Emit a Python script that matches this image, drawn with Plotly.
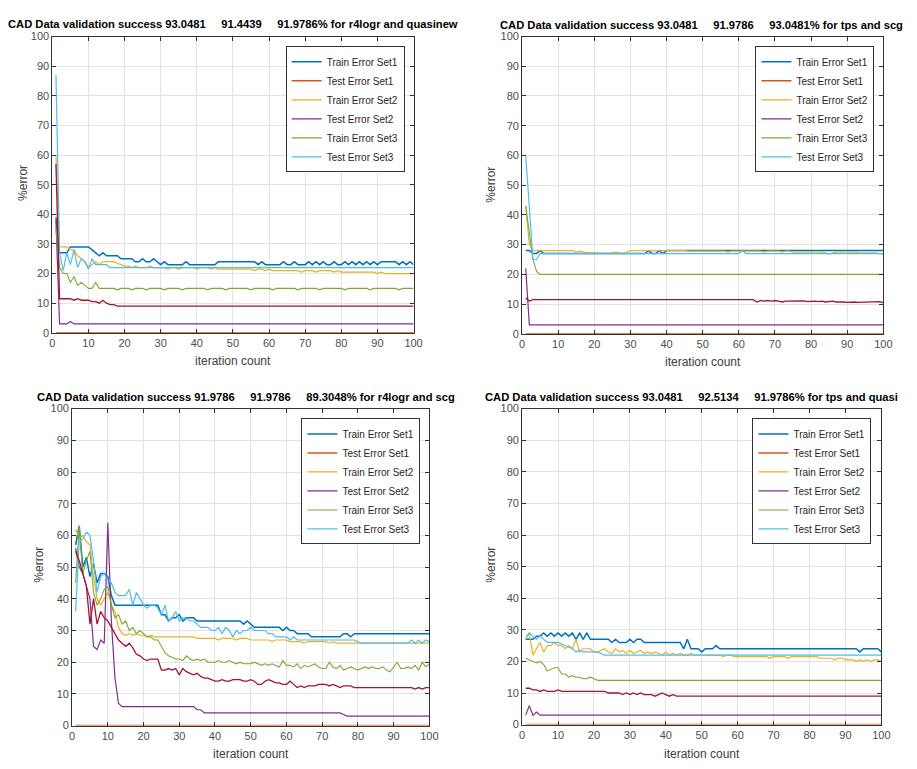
import plotly.graph_objects as go

# ---------------- data ----------------
iterations = list(range(1, 101))

series_names = ["Train Error Set1", "Test Error Set1", "Train Error Set2",
                "Test Error Set2", "Train Error Set3", "Test Error Set3"]

GAP = "\u00a0" * 5
titles = [
    "CAD Data validation success 93.0481" + GAP + "91.4439" + GAP + "91.9786% for r4logr and quasinew",
    "CAD Data validation success 93.0481" + GAP + "91.9786" + GAP + "93.0481% for tps and scg",
    "CAD Data validation success 91.9786" + GAP + "91.9786" + GAP + "89.3048% for r4logr and scg",
    "CAD Data validation success 93.0481" + GAP + "92.5134" + GAP + "91.9786% for tps and quasi",
]

x_ticks = [0, 10, 20, 30, 40, 50, 60, 70, 80, 90, 100]
y_ticks = [0, 10, 20, 30, 40, 50, 60, 70, 80, 90, 100]

# Panel 1: r4logr and quasinew
p1_train1 = [39, 27, 27, 27, 29, 29, 29, 29, 29, 29,
             28, 27, 26, 27, 26, 26, 26, 26, 25, 25,
             25, 25, 24, 24, 25, 24, 24, 25, 24, 23,
             24, 23, 23, 23, 23, 23, 24, 23, 23, 23,
             23, 23, 23, 23, 23, 24, 24, 24, 24, 24,
             24, 24, 24, 24, 24, 24, 23, 24, 23, 23,
             23, 23, 23, 24, 23, 23, 24, 23, 23, 23,
             24, 23, 24, 23, 24, 23, 23, 24, 23, 23,
             24, 23, 24, 23, 24, 23, 24, 23, 24, 23,
             24, 24, 24, 24, 24, 23, 24, 23, 24, 23]
p1_test1 = [0] * 100
p1_train2 = [60, 29, 29, 29, 28, 28, 26, 25, 24, 22,
             23, 24, 23, 24, 24, 24, 24, 23.5, 23, 22.5,
             22.5, 22, 22.5, 22, 22, 22, 22.5, 22, 22, 22,
             22, 21.5, 22, 22, 21.5, 22, 22, 22, 22, 21.5,
             22, 22, 22, 21.5, 22, 21.5, 21.5, 21.5, 21.5, 21.5,
             21.5, 21.5, 21.5, 21.5, 21.5, 21, 21.5, 21.5, 21, 21.5,
             21, 21, 21, 21, 21, 21, 21, 21, 20.5, 21,
             21, 21, 20.5, 21, 21, 21, 21, 20.5, 21, 20.5,
             20.5, 20.5, 20.5, 20.5, 20.5, 20.5, 20.5, 20.5, 20.5, 20,
             20.5, 20, 20, 20, 20, 20, 20, 20, 20, 20]
p1_test2 = [38, 3, 3, 3, 3.8] + [3] * 95
p1_train3 = [35, 22, 20, 20, 17, 19, 16, 17, 16, 15,
             15, 17, 15, 15, 15, 15, 15, 14.5, 15, 15,
             15, 14.5, 15, 15, 15, 14.5, 15, 15, 15, 15,
             14.5, 15, 15, 15, 15, 14.5, 15, 15, 15, 15,
             15, 15, 14.5, 15, 15, 15, 15, 14.5, 15, 15,
             15, 15, 15, 15, 14.5, 15, 15, 15, 15, 15,
             14.5, 15, 15, 15, 15, 15, 15, 14.5, 15, 15,
             15, 15, 15, 14.5, 15, 15, 15, 15, 15, 15,
             14.5, 15, 15, 15, 15, 15, 15, 14.5, 15, 15,
             15, 15, 15, 15, 15, 14.5, 15, 15, 15, 15]
p1_test3 = [87, 27, 21, 27, 23, 28, 22, 25, 24, 21.5,
            25, 23, 23, 23, 23, 22] + [22] * 84
p1_extra = [57, 11.5, 11.5, 11.5, 11.5, 11, 11.5, 11, 11, 11,
            10.5, 10.5, 10, 11, 10, 9.5, 9.5, 9, 9, 9] + [9] * 80

# Panel 2: tps and scg
p2_train1 = [28, 28, 27, 27, 28, 27, 27, 27, 27, 27,
             27, 27, 27, 27, 27, 27, 27, 27, 27, 27,
             27, 27, 27, 27, 27, 27, 27, 27, 27, 27,
             27, 27, 27, 27, 28, 27, 27, 28, 27, 28] + [28] * 60
p2_test1 = [0] * 100
p2_train2 = [43, 30, 28, 28, 28, 28, 28, 28, 28, 28,
             28, 28, 28, 28, 27.5, 27.8, 27.5, 27.3, 27.2, 27.3,
             27.2, 27, 27.2, 27, 27.3, 27.5, 27.2, 27, 27.5, 28,
             28, 28, 28, 28, 28.2, 28, 28, 28, 28, 28,
             28.2, 28.2, 28.2, 28.2, 28, 27.8, 27.8, 27.8, 27.8, 27.8,
             27.8, 27.8, 27.8, 27.8, 27.8, 27.8, 27.5, 27.8, 27.8, 27.8,
             27.8, 27.8, 27.8, 27.8, 27.8, 27.8, 27.5, 27.8, 27.8, 27.8,
             27.8, 27.5, 27.8, 27.8, 27.5, 27.5, 27.5, 27.5, 27.5, 27.5,
             27.5, 27.5, 27.5, 27.2, 26.8, 27.2, 27.5, 27.5, 27.5, 27.5,
             27.3, 27.5, 27.2, 27.2, 27.3, 27.3, 27.2, 27.2, 27, 26.8]
p2_test2 = [22] + [3] * 99
p2_train3 = [43, 33, 25, 21, 20] + [20] * 95
p2_test3 = [60, 42, 25, 25, 27] + [27] * 55 + [28] + [27] * 39
p2_extra = [12, 11, 11.5] + [11.5] * 61 + [
             10.7, 11.2, 11, 11.2, 11, 11.2, 11, 10.7, 11, 11,
             11.2, 11, 11, 11.1, 10.8, 11, 11, 10.8, 11, 10.7,
             10.8, 11, 10.7, 10.8, 10.7, 10.6, 10.7, 10.7, 10.6, 10.6,
             10.6, 10.7, 10.6, 10.6, 10.8, 10.5]

# Panel 3: r4logr and scg
p3_train1 = [57, 63, 50, 53, 47, 51, 45, 48, 48, 47,
             41, 38, 38, 38, 38, 38, 38, 38, 38, 38,
             38, 38, 38, 38, 35, 35, 33, 34, 34, 35,
             33, 34, 34, 34, 33, 33, 33, 33, 33, 33,
             33, 33, 33, 33, 33, 33, 33, 32, 33, 32,
             31, 31, 31, 31, 31, 31, 31, 31, 30, 31,
             30, 30, 29, 29, 29, 29, 28, 28, 28, 28,
             28, 28, 28, 28, 28, 29, 29, 28, 29, 29,
             29, 29, 29, 29, 29, 29, 29, 29, 29, 29,
             29, 29, 29, 29, 29, 29, 29, 29, 29, 29]
p3_test1 = [0] * 100
p3_train2 = [62, 59, 60, 58, 57, 47, 40, 38, 40, 42,
             38, 36, 31, 29, 28.5, 29, 28.5, 29, 28.5, 28.5,
             28, 28.5, 28, 28, 28, 28, 28, 28, 28, 28,
             28, 28, 28, 28, 27.5, 27.5, 27.5, 27.5, 27.5, 27.5,
             27, 27.5, 27.5, 27.5, 27.5, 27, 27.5, 27.5, 27.5, 27,
             27, 27, 27, 27, 27, 26.5, 27, 27, 27, 27,
             26.5, 26.5, 26.5, 26.5, 26, 26.5, 26.5, 26.5, 26.5, 26.5,
             26.5, 26, 26.5, 26, 26, 26, 26, 26, 26, 26] + [26] * 20
p3_test2 = [56, 50, 48, 44, 40, 25, 24, 27, 26, 64,
            33, 15, 7, 6, 6, 6, 6, 6, 6, 6] + [6] * 14 + [5, 5] + [4] * 39 + [3.5] + [3] * 24
p3_train3 = [45, 63, 48, 52, 55, 42, 38, 40, 43, 44,
             38, 34, 35, 32, 33, 30, 31, 29, 30, 29,
             28, 28, 27, 27, 25, 23, 22, 21.5, 21, 21,
             20.5, 22, 21, 20.5, 21, 20.5, 21, 20, 20, 20,
             20.5, 20, 20, 20.5, 20, 19.5, 20, 19.5, 19.5, 19.5,
             20, 19.5, 19, 19.5, 19, 19.5, 19, 18.5, 20.5, 19,
             19, 18.5, 19.5, 18, 19, 18.5, 19, 19.5, 18.5, 18,
             18, 20, 18.5, 18, 19, 17.5, 18, 18.5, 18, 17.5,
             18, 18.5, 18, 18.5, 18, 18, 18.5, 17.5, 17, 18.5,
             20, 18, 18, 18.5, 18, 19, 17.5, 20, 18.5, 19.5]
p3_test3 = [36, 58, 59, 61, 60, 52, 42, 47, 48, 46,
            45, 42, 41, 41, 41, 43, 38, 42, 40, 38,
            37, 38, 38, 37, 35, 38, 33, 34, 36, 33,
            34, 34, 33, 33, 32, 31, 31, 31, 30, 30,
            31, 29, 31, 30, 28, 30, 29, 30, 30, 31,
            30, 30, 30, 30, 29, 29, 28, 28, 28, 28,
            27, 28, 27, 27, 27, 27, 27, 27, 27, 27,
            27, 27, 27, 27, 27, 27, 27, 27, 27, 26.5,
            26, 26, 26, 26, 26, 26, 26, 26, 26, 26,
            26, 26, 26, 26, 27, 26, 27, 26, 27, 26.5]
p3_extra = [55, 52, 48, 44, 32, 40, 32, 36, 34, 33,
            31, 29, 27, 26, 25, 26, 24.5, 22.5, 22, 21,
            20.5, 21, 21, 21, 17.5, 17.5, 18, 17.5, 18, 16,
            18, 17, 16.5, 16, 16.5, 15.5, 15, 15, 14.5, 14,
            14, 14.5, 14, 14, 14.5, 14.5, 14.5, 14, 14, 14.5,
            14, 13, 13, 14, 14.5, 14, 13.5, 13.5, 13, 13,
            14, 13, 12, 12.5, 12, 12.5, 12.5, 12.5, 13, 13,
            13, 12.5, 13, 12.5, 12, 12.5, 12.5, 12.5, 12, 12,
            12, 12, 12, 12, 12, 12, 12, 12, 12, 12,
            12, 12, 12, 12, 12, 11.5, 12, 11.5, 12, 12]

# Panel 4: tps and quasinew
p4_train1 = [27, 27, 27, 28, 28, 29, 28, 29, 28, 29,
             28, 29, 28, 29, 27, 29, 27, 29, 27, 27,
             27, 27, 27, 27, 26, 27, 26, 26, 26, 27,
             26, 27, 27, 26, 26, 26, 26, 26, 26, 26,
             26, 26, 26, 26, 24, 27, 24, 24, 24, 23,
             24, 24, 24, 25] + [24] * 39 + [23, 24, 24, 24, 24, 24, 23]
p4_test1 = [0] * 100
p4_train2 = [28, 29, 22, 24, 26, 23, 25, 25, 26, 25,
             25, 24, 25, 24, 27, 23, 24, 24, 24, 23,
             23, 23.5, 24, 23, 22.5, 24, 23, 23.5, 22.5, 23.5,
             22.5, 23, 23.5, 22.5, 23, 22.5, 23, 22.5, 22, 23,
             22, 22.5, 22, 22.5, 22, 22, 22.5, 22, 22, 22,
             22, 22, 22, 22, 22, 21.5, 22, 22, 21.5, 21.5,
             21.5, 21.5, 21.5, 21.5, 21.5, 21.5, 21.5, 21.5, 21, 21.5,
             21.5, 21.5, 21.5, 21, 21.5, 21.5, 21.5, 21.5, 21.5, 21.5,
             21.5, 21.5, 21, 21, 21, 21, 20.5, 21, 21, 20.5,
             20.5, 20.5, 20, 20.5, 20, 20.5, 20, 20.5, 20.5, 20]
p4_test2 = [3, 6, 3, 4, 3] + [3] * 95
p4_train3 = [21, 20.5, 20, 19.5, 20, 19, 17, 17.5, 18, 18,
             16, 16, 15, 15.5, 15, 15, 14.5, 14.5, 15, 14.5,
             14, 14, 14, 14, 14, 13.8, 13.8, 14, 14, 14] + [14] * 70
p4_test3 = [27, 29, 28, 27, 28, 27, 26, 26, 26, 26,
            25.5, 25, 24.5, 24, 23, 23.5, 23, 23, 23, 23,
            23, 22.5] + [22] * 78
p4_extra = [11.5, 11.5, 11, 11, 10.5, 11, 10.5, 10.5, 10.5, 11,
            10.5, 10.5, 10.5, 10.5, 10.5, 10.5, 10.5, 10.5, 10.5, 10.5,
            10.5, 10.5, 10.5, 10, 10, 10, 10, 9.5, 10, 9.5,
            10, 9.5, 10, 9.5, 9.5, 9.5, 9, 9.5, 10, 9.5,
            9, 9.5] + [9] * 58

panels = [
    [p1_train1, p1_test1, p1_train2, p1_test2, p1_train3, p1_test3, p1_extra],
    [p2_train1, p2_test1, p2_train2, p2_test2, p2_train3, p2_test3, p2_extra],
    [p3_train1, p3_test1, p3_train2, p3_test2, p3_train3, p3_test3, p3_extra],
    [p4_train1, p4_test1, p4_train2, p4_test2, p4_train3, p4_test3, p4_extra],
]

# ---------------- style ----------------
colors = ["#0072BD", "#D95319", "#EDB120", "#7E2F8E", "#77AC30", "#4DBEEE", "#A2142F"]
widths = [1.5, 1.5, 1.2, 1.2, 1.1, 1.2, 1.3]
FONT = "Liberation Sans, Arial, sans-serif"
W, H = 917, 769

# axes pixel boxes: (left, right, top, bottom)
boxes = [(50, 416, 31, 332), (526, 892, 31, 333), (70, 432, 409, 731), (526, 890, 409, 730)]
title_pos = [(233, 18), (708, 19), (246, 397), (698, 397)]
xlabel_y = [361, 362, 760, 760]
ylabel_pos = [(20, 180), (495, 182), (37, 568), (495, 568)]
legend_pos = [(407, 41), (883, 41), (423, 419), (880, 419)]

fig = go.Figure()
layout = dict(width=W, height=H, margin=dict(l=0, r=0, t=0, b=0),
              paper_bgcolor="white", plot_bgcolor="white", showlegend=True,
              font=dict(family=FONT, color="#404040"))
annotations = []

for i, data in enumerate(panels):
    n = i + 1
    xa = "x" if n == 1 else f"x{n}"
    ya = "y" if n == 1 else f"y{n}"
    lg = "legend" if n == 1 else f"legend{n}"
    for k, vals in enumerate(data):
        fig.add_trace(go.Scatter(
            x=iterations, y=vals, mode="lines",
            name=series_names[k] if k < 6 else "",
            showlegend=(k < 6),
            line=dict(color=colors[k], width=widths[k]),
            xaxis=xa, yaxis=ya, legend=lg))
    l, r, t, b = boxes[i]
    axis_common = dict(range=[0, 100], tickvals=x_ticks, showgrid=True, gridcolor="#e3e3e3",
                       gridwidth=1, showline=True, linecolor="#333333", linewidth=1,
                       mirror="ticks", ticks="inside", ticklen=4, tickcolor="#333333",
                       tickfont=dict(family=FONT, size=11, color="#4d4d4d"), zeroline=False)
    layout["xaxis" if n == 1 else f"xaxis{n}"] = dict(
        axis_common, domain=[l / W, r / W], anchor=ya)
    layout["yaxis" if n == 1 else f"yaxis{n}"] = dict(
        axis_common, tickvals=y_ticks, domain=[1 - b / H, 1 - t / H], anchor=xa)
    lx, ly = legend_pos[i]
    layout[lg] = dict(x=lx / W, y=1 - ly / H, xanchor="right", yanchor="top",
                      xref="paper", yref="paper",
                      bgcolor="white", bordercolor="#333333", borderwidth=1,
                      font=dict(family=FONT, size=10, color="#262626"),
                      itemwidth=30, tracegroupgap=0)
    tx, ty = title_pos[i]
    annotations.append(dict(text="<b>" + titles[i] + "</b>", x=tx / W, y=1 - ty / H,
                            xref="paper", yref="paper", showarrow=False,
                            xanchor="center", yanchor="middle",
                            font=dict(family=FONT, size=11.2, color="black")))
    annotations.append(dict(text="iteration count", x=(l + r) / 2 / W, y=1 - xlabel_y[i] / H,
                            xref="paper", yref="paper", showarrow=False,
                            xanchor="center", yanchor="middle",
                            font=dict(family=FONT, size=12, color="#404040")))
    yx, yy = ylabel_pos[i]
    annotations.append(dict(text="%error", x=yx / W, y=1 - yy / H, textangle=-90,
                            xref="paper", yref="paper", showarrow=False,
                            xanchor="center", yanchor="middle",
                            font=dict(family=FONT, size=12, color="#404040")))

layout["annotations"] = annotations
fig.update_layout(**layout)
fig.write_html("out.html", config={"displayModeBar": False},
               post_script="document.body.style.margin='0px';document.body.style.overflow='hidden';")
